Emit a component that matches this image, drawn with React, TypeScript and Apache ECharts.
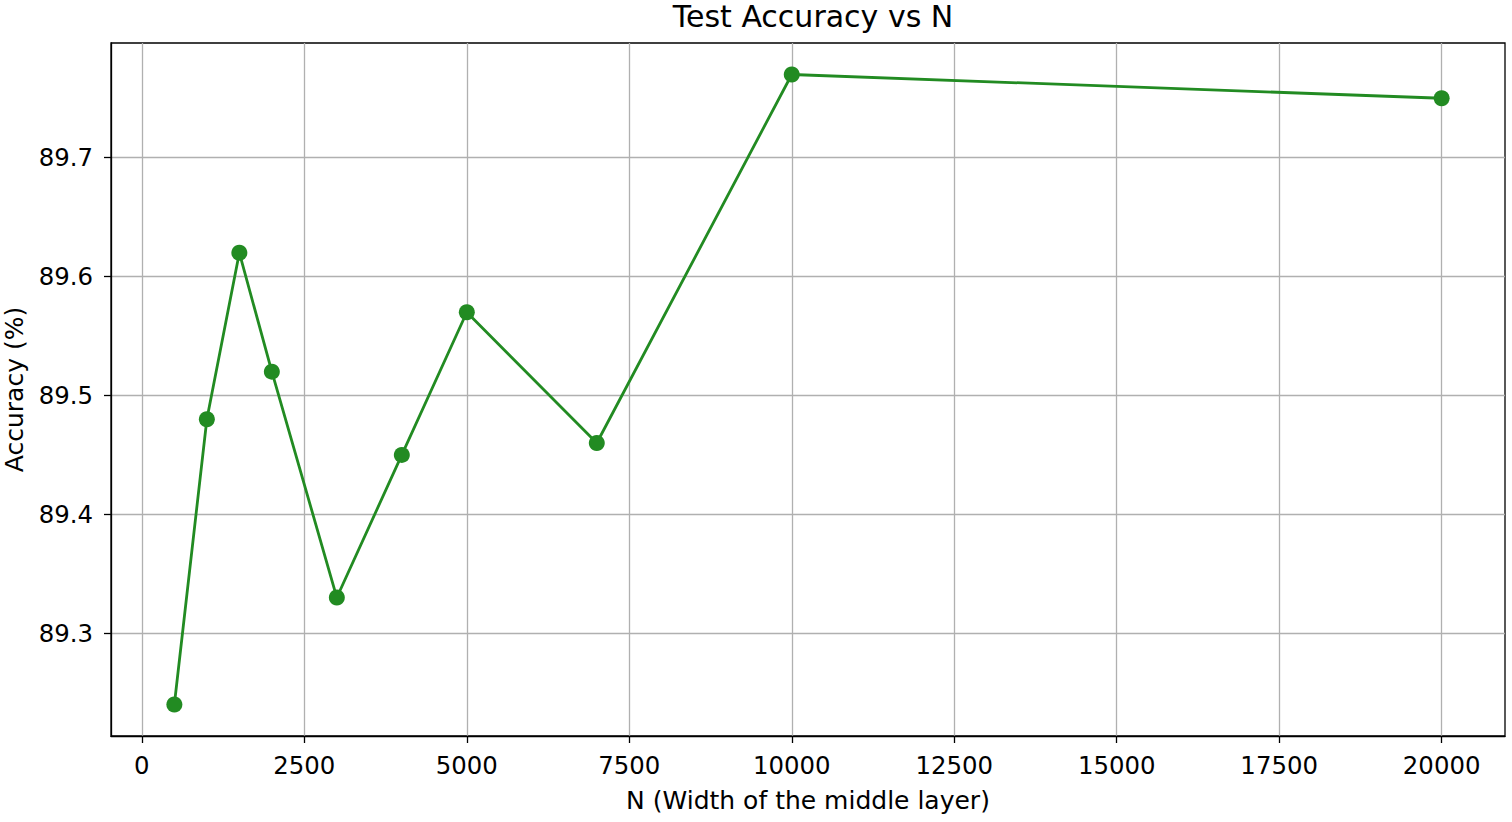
import React, { useEffect, useRef } from "react";
import * as echarts from "echarts";

const nValues = [500, 1000, 1500, 2000, 3000, 4000, 5000, 7000, 10000, 20000];
const accuracy = [89.24, 89.48, 89.62, 89.52, 89.33, 89.45, 89.57, 89.46, 89.77, 89.75];
const xTicks = [0, 2500, 5000, 7500, 10000, 12500, 15000, 17500, 20000];
const yTicks = [89.3, 89.4, 89.5, 89.6, 89.7];

const FONT = "DejaVu Sans";

export default function App() {
  const ref = useRef<HTMLDivElement>(null);
  useEffect(() => {
    if (!ref.current) return;
    const chart = echarts.init(ref.current, null, { renderer: "svg" });
    const xSpan = nValues[nValues.length - 1] - nValues[0];
    const yMinD = Math.min(...accuracy);
    const yMaxD = Math.max(...accuracy);
    const ySpan = yMaxD - yMinD;
    chart.setOption({
      animation: false,
      backgroundColor: "#ffffff",
      title: {
        text: "Test Accuracy vs N",
        left: 808,
        textAlign: "center",
        top: -4,
        textStyle: { fontFamily: FONT, fontSize: 30, fontWeight: "normal", color: "#000" },
      },
      grid: {
        left: 111,
        right: 7,
        top: 43,
        bottom: 86,
        show: true,
        borderColor: "#000",
        borderWidth: 1.3,
        backgroundColor: "transparent",
        containLabel: false,
        outerBoundsMode: "none",
      },
      xAxis: {
        type: "value",
        min: nValues[0] - 0.05 * xSpan,
        max: nValues[nValues.length - 1] + 0.05 * xSpan,
        name: "N (Width of the middle layer)",
        nameLocation: "middle",
        nameGap: 52,
        nameTextStyle: { fontFamily: FONT, fontSize: 25, color: "#000" },
        axisLine: { show: true, onZero: false, lineStyle: { color: "#000", width: 1.3 } },
        axisTick: {
          show: true,
          length: 7,
          inside: false,
          customValues: xTicks,
          lineStyle: { color: "#000", width: 1.3 },
        },
        axisLabel: {
          customValues: xTicks,
          fontFamily: FONT,
          fontSize: 24.4,
          color: "#000",
          margin: 17,
          showMinLabel: true,
          showMaxLabel: true,
          formatter: (v: number) => String(v),
        },
        splitLine: { show: true, lineStyle: { color: "#b0b0b0", width: 1.3 } },
      },
      yAxis: {
        type: "value",
        min: yMinD - 0.05 * ySpan,
        max: yMaxD + 0.05 * ySpan,
        name: "Accuracy (%)",
        nameLocation: "middle",
        nameGap: 84,
        nameRotate: 90,
        nameTextStyle: { fontFamily: FONT, fontSize: 25, color: "#000" },
        axisLine: { show: true, onZero: false, lineStyle: { color: "#000", width: 1.3 } },
        axisTick: {
          show: true,
          length: 7,
          inside: false,
          customValues: yTicks,
          lineStyle: { color: "#000", width: 1.3 },
        },
        axisLabel: {
          customValues: yTicks,
          fontFamily: FONT,
          fontSize: 24.4,
          color: "#000",
          margin: 18,
          formatter: (v: number) => v.toFixed(1),
        },
        splitLine: { show: true, lineStyle: { color: "#b0b0b0", width: 1.3 } },
      },
      series: [
        {
          type: "line",
          data: nValues.map((n, i) => [n, accuracy[i]]),
          symbol: "circle",
          symbolSize: 16,
          itemStyle: { color: "#228B22" },
          lineStyle: { color: "#228B22", width: 2.8 },
          clip: false,
        },
      ],
    });
    return () => chart.dispose();
  }, []);
  return (
    <div
      ref={ref}
      style={{ position: "fixed", left: 0, top: 0, width: 1512, height: 822 }}
    />
  );
}
